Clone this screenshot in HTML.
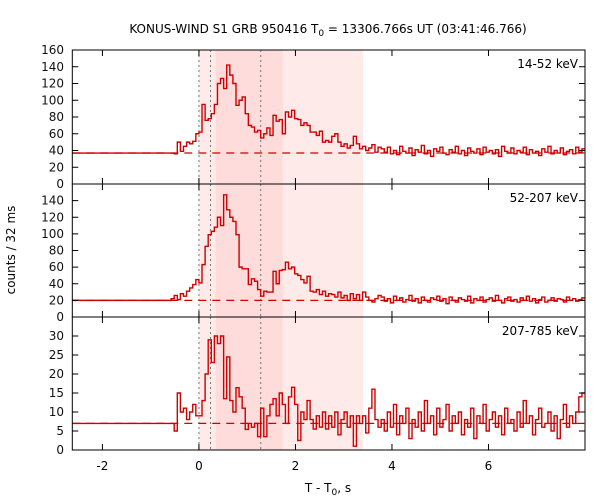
<!DOCTYPE html>
<html><head><meta charset="utf-8"><style>
body{margin:0;background:#fff}
svg{display:block;font-family:"DejaVu Sans","Liberation Sans",sans-serif}
</style></head><body>
<svg id="chart" width="600" height="500" viewBox="0 0 600 500">
<text x="328" y="33" font-size="12" text-anchor="middle">KONUS-WIND S1 GRB 950416 T<tspan font-size="9" dy="3">0</tspan><tspan dy="-3"> = 13306.766s UT (03:41:46.766)</tspan></text>
<text x="15" y="250" font-size="12" text-anchor="middle" transform="rotate(-90 15 250)">counts / 32 ms</text>
<text x="328" y="492" font-size="12" text-anchor="middle">T - T<tspan font-size="9" dy="3">0</tspan><tspan dy="-3">, s</tspan></text>
<g id="plots"></g>
</svg>
<script>
const xTicks=[-2,0,2,4,6];
const bgStart=-0.576, binW=0.064;
const shadeLight=[0,3.4], shadeDark=[0.35,1.74];
const vLines=[0,0.24,1.28];
const bandLabels=["14-52 keV","52-207 keV","207-785 keV"];
const bgLevels=[37,20,7];
const yMaxes=[160,160,35];
const yTicks1=[0,20,40,60,80,100,120,140,160];
const yTicks2=[0,20,40,60,80,100,120,140];
const yTicks3=[0,5,10,15,20,25,30];
const counts1=[37,36,50,39,45,50,48,51,60,62,95,76,78,84,95,120,126,114,142,130,120,94,100,104,84,70,68,62,64,55,60,67,58,82,75,77,60,86,80,88,78,77,70,73,70,62,62,58,63,50,52,50,57,60,50,45,48,43,46,57,48,42,45,40,43,47,38,44,
42,38,44,36,40,35,45,39,37,43,34,41,38,46,36,40,33,42,39,44,37,35,41,38,45,36,40,34,43,39,37,42,35,44,38,40,36,41,33,45,39,37,43,36,40,38,44,35,41,37,39,34,42,38,45,36,40,37,43,35,39,41,36,44,38,42];
const counts2=[22,26,21,28,25,31,35,39,45,41,63,85,99,103,108,120,110,147,129,120,115,99,60,58,58,39,46,43,33,25,31,30,30,55,40,56,57,66,58,60,52,50,45,41,49,31,30,33,27,31,25,28,27,24,30,23,26,20,28,22,27,20,30,24,20,18,22,26,
24,19,22,17,25,20,23,18,21,26,19,22,17,24,20,18,23,21,25,19,22,16,24,20,18,23,21,19,25,17,22,20,24,18,21,23,19,26,20,17,22,24,19,21,18,23,20,25,19,22,17,21,24,18,20,23,19,22,21,18,24,20,22,19,21,23];
const counts3=[7,5,15,10,11,8,10,12,9,9,13,20,29,23,30,28,30,13.5,24.5,13,10,16.4,14,11,5.4,7,6,7,3.5,11,3.5,9,12,13.5,9,15,12,7,14,16.5,12,2.5,10,8,13,8,5.5,9,6,10,5.5,9,6,10,4,8,10,6,9,1,9,7,9,4.5,11,16,8,6,
8,5,10,6,12,4,9,7,11,3,8,6,10,5,13,7,9,4,11,6,8,12,5,9,7,10,4,8,6,11,3,9,7,12,5,8,10,6,9,4,11,7,8,5,10,6,13,7,9,4,8,11,6,7,10,5,9,3,8,12,6,9,7,10,14,15];

const NS="http://www.w3.org/2000/svg";
const X0=72.3,X1=585,T0=-2.624,T1=8.0;
const xs=t=>X0+(t-T0)/(T1-T0)*(X1-X0);
const panels=[[50,184],[184,317],[317,450]];
const allCounts=[counts1,counts2,counts3];
const allTicks=[yTicks1,yTicks2,yTicks3];
const g=document.getElementById('plots');
function mk(tag,attrs,parent){const e=document.createElementNS(NS,tag);for(const k in attrs)e.setAttribute(k,attrs[k]);(parent||g).appendChild(e);return e;}

panels.forEach((p,pi)=>{
  const [top,bot]=p, ymax=yMaxes[pi];
  const ys=v=>bot-v/ymax*(bot-top);
  const pg=mk('g',{});
  
  
  let r=mk('rect',{x:xs(shadeLight[0]),y:top,width:xs(shadeLight[1])-xs(shadeLight[0]),height:bot-top,fill:'#ffeaea'},pg);
  
  
  r=mk('rect',{x:xs(shadeDark[0]),y:top,width:xs(shadeDark[1])-xs(shadeDark[0]),height:bot-top,fill:'#ffdcdc'},pg);
  
  
  vLines.forEach(t=>{
    const l=mk('line',{x1:xs(t),x2:xs(t),y1:top,y2:bot,stroke:'#777','stroke-width':1,'stroke-dasharray':'2,3'},pg);
    
    
  });
  const bgl=mk('line',{x1:X0,x2:X1,y1:ys(bgLevels[pi]),y2:ys(bgLevels[pi]),stroke:'#cc0000','stroke-width':1.2,'stroke-dasharray':'8,6'},pg);
  
  
  const c=allCounts[pi];
  let d='M'+X0+','+ys(bgLevels[pi])+' L'+xs(bgStart)+','+ys(bgLevels[pi]);
  c.forEach((v,i)=>{const a=xs(bgStart+i*binW),b=xs(bgStart+(i+1)*binW);d+=' L'+a+','+ys(v)+' L'+Math.min(b,X1)+','+ys(v);});
  const path=mk('path',{d:d,fill:'none',stroke:'#d00000','stroke-width':1.4},pg);
  
  
  const fr=mk('rect',{x:X0,y:top,width:X1-X0,height:bot-top,fill:'none',stroke:'#000','stroke-width':1},pg);
  
  
  xTicks.forEach(t=>{
    mk('line',{x1:xs(t),x2:xs(t),y1:bot,y2:bot-6,stroke:'#000'},pg);
    mk('line',{x1:xs(t),x2:xs(t),y1:top,y2:top+6,stroke:'#000'},pg);
  });
  allTicks[pi].forEach(v=>{
    mk('line',{x1:X0,x2:X0+6,y1:ys(v),y2:ys(v),stroke:'#000'},pg);
    mk('line',{x1:X1,x2:X1-6,y1:ys(v),y2:ys(v),stroke:'#000'},pg);
    const tx=mk('text',{x:64,y:ys(v)+4,'font-size':12,'text-anchor':'end',fill:'#111'},pg);
    
    
    tx.textContent=v;
  });
  const lb=mk('text',{x:578,y:top+18,'font-size':12,'text-anchor':'end'},pg);
  
  
  lb.textContent=bandLabels[pi];
});
xTicks.forEach(t=>{
  const tx=mk('text',{x:xs(t),y:470,'font-size':12,'text-anchor':'middle'});
  
  
  tx.textContent=t;
});
</script>
</body></html>
